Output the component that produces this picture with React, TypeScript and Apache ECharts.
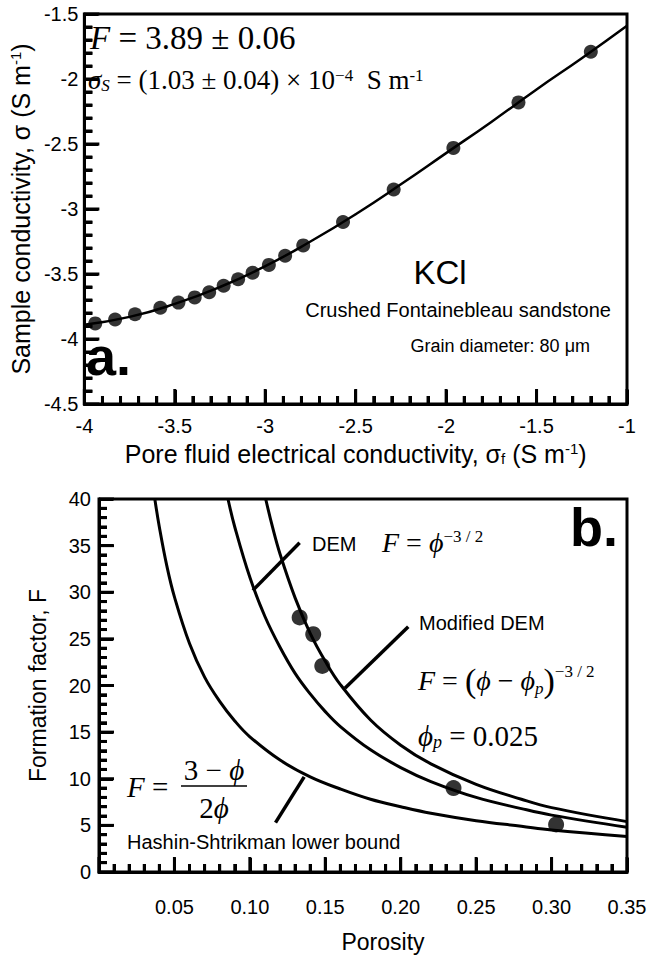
import React, { useEffect, useRef } from "react";
import * as echarts from "echarts";

// Panel a: fitted curve
const aLineX = [-4, -3.75, -3.5, -3.25, -3, -2.75, -2.5, -2.25, -2, -1.75, -1.5, -1.25, -1];
const aLineY = [-3.89, -3.83, -3.73, -3.6, -3.44, -3.25, -3.04, -2.81, -2.57, -2.33, -2.08, -1.84, -1.59];
// Panel a: measurements
const aPtX = [-3.94, -3.83, -3.72, -3.58, -3.48, -3.39, -3.31, -3.23, -3.15, -3.07, -2.98, -2.89, -2.79, -2.57, -2.29, -1.96, -1.6, -1.2];
const aPtY = [-3.88, -3.85, -3.81, -3.76, -3.72, -3.68, -3.64, -3.59, -3.54, -3.49, -3.43, -3.36, -3.28, -3.1, -2.85, -2.53, -2.18, -1.79];

// Panel b: curves (porosity, formation factor)
const hsPhi = [0.037, 0.04, 0.045, 0.05, 0.06, 0.07, 0.08, 0.09, 0.1, 0.12, 0.14, 0.16, 0.18, 0.2, 0.22, 0.25, 0.28, 0.3, 0.35];
const hsF = [40, 37, 32.8, 29.5, 24.5, 20.9, 18.3, 16.2, 14.5, 12.0, 10.2, 8.9, 7.8, 7.0, 6.3, 5.5, 4.9, 4.5, 3.8];
const demPhi = [0.0855, 0.09, 0.1, 0.11, 0.12, 0.13, 0.14, 0.15, 0.16, 0.18, 0.2, 0.22, 0.25, 0.28, 0.3, 0.35];
const demF = [40, 37, 31.6, 27.4, 24.1, 21.3, 19.1, 17.2, 15.6, 13.1, 11.2, 9.7, 8.0, 6.8, 6.1, 4.8];
const mdemPhi = [0.1105, 0.115, 0.12, 0.13, 0.14, 0.15, 0.16, 0.18, 0.2, 0.22, 0.25, 0.28, 0.3, 0.35];
const mdemF = [40, 37, 34.1, 29.4, 25.6, 22.6, 20.1, 16.3, 13.6, 11.6, 9.4, 7.8, 6.9, 5.4];
// Panel b: measurements
const bPtPhi = [0.133, 0.142, 0.148, 0.235, 0.303];
const bPtF = [27.3, 25.5, 22.1, 9.0, 5.1];
// Panel b: label pointer lines
const demPtrPhi = [0.102, 0.133];
const demPtrF = [30.2, 35.3];
const mdemPtrPhi = [0.163, 0.205];
const mdemPtrF = [19.7, 26.3];
const hsPtrPhi = [0.117, 0.136];
const hsPtrF = [5.3, 10.2];

// Axis ranges / tick steps: [min, max, minor step, minor ticks per major]
const aXAxis = [-4, -1, 0.1, 5];
const aYAxis = [-4.5, -1.5, 0.1, 5];
const bXAxis = [0, 0.35, 0.01, 5];
const bYAxis = [0, 40, 1, 5];

const zip = (xs: number[], ys: number[]) => xs.map((x, i) => [x, ys[i]]);

// tick marks along an axis: [value, isMajor]
function tickList(ax: number[]) {
  const [min, max, step, every] = ax;
  const n = Math.round((max - min) / step);
  const out: number[][] = [];
  for (let i = 0; i <= n; i++) out.push([+(min + i * step).toFixed(6), i % every === 0 ? 1 : 0]);
  return out;
}

// inward tick marks drawn as thin rect symbols at the axis values
function tickSeries(ax: number[], other: number[], grid: number, vertical: boolean) {
  return {
    type: "scatter",
    xAxisIndex: grid,
    yAxisIndex: grid,
    silent: true,
    clip: false,
    z: 5,
    symbol: "rect",
    itemStyle: { color: "#000", opacity: 1 },
    data: tickList(ax).map(([v, m]) => {
      const len = m ? 15 : 8;
      return vertical
        ? { value: [other[0], v], symbolSize: [len, 3], symbolOffset: [len / 2, 0] }
        : { value: [v, other[0]], symbolSize: [3, len], symbolOffset: [0, -len / 2] };
    }),
  };
}

const SANS = "Liberation Sans";
const SERIF = "Liberation Serif";

const nameRich = {
  sup: { fontSize: 15, fontFamily: SANS, color: "#000", verticalAlign: "top" },
  sub: { fontSize: 15, fontFamily: SANS, color: "#000", verticalAlign: "bottom" },
};

const mathRich = (size: number) => ({
  i: { fontStyle: "italic", fontFamily: SERIF, fontSize: size, fill: "#000" },
  sup: { fontFamily: SERIF, fontSize: Math.round(size * 0.62), verticalAlign: "top", fill: "#000" },
  sub: { fontStyle: "italic", fontFamily: SERIF, fontSize: Math.round(size * 0.62), verticalAlign: "bottom", fill: "#000" },
  par: { fontFamily: SERIF, fontSize: Math.round(size * 1.2), fill: "#000" },
});

function axisCommon(ax: number[]) {
  return {
    type: "value",
    min: ax[0],
    max: ax[1],
    interval: +(ax[2] * ax[3]).toFixed(6),
    axisLine: { show: true, onZero: false, lineStyle: { color: "#000", width: 3 } },
    axisTick: { show: true, inside: true, length: 14, lineStyle: { color: "#000", width: 3 } },
    minorTick: { show: true, splitNumber: ax[3], length: 8, lineStyle: { color: "#000", width: 3 } },
    splitLine: { show: false },
    minorSplitLine: { show: false },
  };
}

const texts: any[] = [
  // panel a
  {
    type: "text", x: 90, y: 38, z: 10,
    style: { text: "{i|F} = 3.89 ± 0.06", fontSize: 33, fontFamily: SERIF, fill: "#000", verticalAlign: "middle", rich: mathRich(33) },
  },
  {
    type: "text", x: 88, y: 80, z: 10,
    style: {
      text: "{i|σ}{sub|S} = (1.03 ± 0.04) × 10{sup|−4}  S m{sup|-1}",
      fontSize: 27, fontFamily: SERIF, fill: "#000", verticalAlign: "middle", rich: mathRich(27),
    },
  },
  { type: "text", x: 440, y: 272, z: 10, style: { text: "KCl", fontSize: 33, fontFamily: SANS, fill: "#000", align: "center", verticalAlign: "middle" } },
  { type: "text", x: 611, y: 310, z: 10, style: { text: "Crushed Fontainebleau sandstone", fontSize: 20, fontFamily: SANS, fill: "#000", align: "right", verticalAlign: "middle" } },
  { type: "text", x: 590, y: 346, z: 10, style: { text: "Grain diameter: 80 μm", fontSize: 18, fontFamily: SANS, fill: "#000", align: "right", verticalAlign: "middle" } },
  { type: "text", x: 86, y: 356, z: 10, style: { text: "a.", fontSize: 54, fontWeight: "bold", fontFamily: SANS, fill: "#000", verticalAlign: "middle" } },
  // panel b
  { type: "text", x: 570, y: 527, z: 10, style: { text: "b.", fontSize: 54, fontWeight: "bold", fontFamily: SANS, fill: "#000", verticalAlign: "middle" } },
  { type: "text", x: 312, y: 544, z: 10, style: { text: "DEM", fontSize: 20, fontFamily: SANS, fill: "#000", verticalAlign: "middle" } },
  {
    type: "text", x: 382, y: 542, z: 10,
    style: { text: "{i|F} = {i|ϕ}{sup|−3 / 2}", fontSize: 28, fontFamily: SERIF, fill: "#000", verticalAlign: "middle", rich: mathRich(28) },
  },
  { type: "text", x: 419, y: 623, z: 10, style: { text: "Modified DEM", fontSize: 20, fontFamily: SANS, fill: "#000", verticalAlign: "middle" } },
  {
    type: "text", x: 418, y: 680, z: 10,
    style: { text: "{i|F} = {par|(}{i|ϕ} − {i|ϕ}{sub|p}{par|)}{sup|−3 / 2}", fontSize: 28, fontFamily: SERIF, fill: "#000", verticalAlign: "middle", rich: mathRich(28) },
  },
  {
    type: "text", x: 418, y: 736, z: 10,
    style: { text: "{i|ϕ}{sub|p} = 0.025", fontSize: 29, fontFamily: SERIF, fill: "#000", verticalAlign: "middle", rich: mathRich(29) },
  },
  {
    type: "text", x: 127, y: 787, z: 10,
    style: { text: "{i|F} =", fontSize: 29, fontFamily: SERIF, fill: "#000", verticalAlign: "middle", rich: mathRich(29) },
  },
  {
    type: "text", x: 214, y: 770, z: 10,
    style: { text: "3 − {i|ϕ}", fontSize: 29, fontFamily: SERIF, fill: "#000", align: "center", verticalAlign: "middle", rich: mathRich(29) },
  },
  { type: "line", z: 10, shape: { x1: 181, y1: 786, x2: 247, y2: 786 }, style: { stroke: "#000", lineWidth: 1.5 } },
  {
    type: "text", x: 214, y: 808, z: 10,
    style: { text: "2{i|ϕ}", fontSize: 29, fontFamily: SERIF, fill: "#000", align: "center", verticalAlign: "middle", rich: mathRich(29) },
  },
  { type: "text", x: 127, y: 842, z: 10, style: { text: "Hashin-Shtrikman lower bound", fontSize: 20, fontFamily: SANS, fill: "#000", verticalAlign: "middle" } },
];

export default function App() {
  const ref = useRef<HTMLDivElement>(null);
  useEffect(() => {
    document.body.style.margin = "0";
    if (!ref.current) return;
    const chart = echarts.init(ref.current, undefined, { renderer: "svg" });
    const option: any = {
      animation: false,
      backgroundColor: "#fff",
      grid: [
        { left: 78, top: 14, width: 549, height: 390, show: true, borderColor: "#000", borderWidth: 3, backgroundColor: "transparent", z: 0 },
        { left: 99, top: 499, width: 528, height: 373, show: true, borderColor: "#000", borderWidth: 3, backgroundColor: "transparent", z: 0 },
      ],
      xAxis: [
        {
          gridIndex: 0,
          ...axisCommon(aXAxis),
          axisLabel: { color: "#000", fontSize: 20, fontFamily: SANS, margin: 12 },
          name: "Pore fluid electrical conductivity, σ{sub|f} (S m{sup|-1})",
          nameLocation: "middle",
          nameGap: 37,
          nameTextStyle: { color: "#000", fontSize: 25, fontFamily: SANS, rich: nameRich },
        },
        {
          gridIndex: 1,
          ...axisCommon(bXAxis),
          axisLabel: {
            color: "#000",
            fontSize: 20,
            fontFamily: SANS,
            margin: 25,
            formatter: (v: number) => (v === 0 ? "" : v.toFixed(2)),
          },
          name: "Porosity",
          nameLocation: "middle",
          nameGap: 58,
          nameTextStyle: { color: "#000", fontSize: 23, fontFamily: SANS, padding: [0, 0, 0, 40] },
        },
      ],
      yAxis: [
        {
          gridIndex: 0,
          ...axisCommon(aYAxis),
          axisLabel: { color: "#000", fontSize: 20, fontFamily: SANS, margin: 6, padding: [8, 0, 0, 0] },
          name: "Sample conductivity, σ (S m{sup|-1})",
          nameLocation: "middle",
          nameGap: 46,
          nameTextStyle: { color: "#000", fontSize: 25, fontFamily: SANS, rich: nameRich },
        },
        {
          gridIndex: 1,
          ...axisCommon(bYAxis),
          axisLabel: { color: "#000", fontSize: 20, fontFamily: SANS, margin: 8, padding: [14, 0, 0, 0] },
          name: "Formation factor, F",
          nameLocation: "middle",
          nameGap: 50,
          nameTextStyle: { color: "#000", fontSize: 23, fontFamily: SANS },
        },
      ],
      series: [
        tickSeries(aXAxis, aYAxis, 0, false),
        tickSeries(aYAxis, aXAxis, 0, true),
        tickSeries(bXAxis, bYAxis, 1, false),
        tickSeries(bYAxis, bXAxis, 1, true),
        {
          type: "line", xAxisIndex: 0, yAxisIndex: 0, data: zip(aLineX, aLineY),
          smooth: true, symbol: "none", lineStyle: { color: "#000", width: 2.5 }, z: 3,
        },
        {
          type: "scatter", xAxisIndex: 0, yAxisIndex: 0, data: zip(aPtX, aPtY),
          symbolSize: 14, itemStyle: { color: "#000" }, z: 4,
        },
        {
          type: "line", xAxisIndex: 1, yAxisIndex: 1, data: zip(hsPhi, hsF),
          smooth: 0.4, symbol: "none", lineStyle: { color: "#000", width: 3 }, clip: true, z: 3,
        },
        {
          type: "line", xAxisIndex: 1, yAxisIndex: 1, data: zip(demPhi, demF),
          smooth: 0.4, symbol: "none", lineStyle: { color: "#000", width: 3 }, clip: true, z: 3,
        },
        {
          type: "line", xAxisIndex: 1, yAxisIndex: 1, data: zip(mdemPhi, mdemF),
          smooth: 0.4, symbol: "none", lineStyle: { color: "#000", width: 3 }, clip: true, z: 3,
        },
        {
          type: "line", xAxisIndex: 1, yAxisIndex: 1, data: zip(demPtrPhi, demPtrF),
          symbol: "none", lineStyle: { color: "#000", width: 3.5 }, z: 3,
        },
        {
          type: "line", xAxisIndex: 1, yAxisIndex: 1, data: zip(mdemPtrPhi, mdemPtrF),
          symbol: "none", lineStyle: { color: "#000", width: 3.5 }, z: 3,
        },
        {
          type: "line", xAxisIndex: 1, yAxisIndex: 1, data: zip(hsPtrPhi, hsPtrF),
          symbol: "none", lineStyle: { color: "#000", width: 3.5 }, z: 3,
        },
        {
          type: "scatter", xAxisIndex: 1, yAxisIndex: 1, data: zip(bPtPhi, bPtF),
          symbolSize: 16, itemStyle: { color: "#000" }, z: 4,
        },
      ],
      graphic: texts,
    };
    chart.setOption(option);
    return () => chart.dispose();
  }, []);
  return <div ref={ref} style={{ width: 667, height: 960 }} />;
}
